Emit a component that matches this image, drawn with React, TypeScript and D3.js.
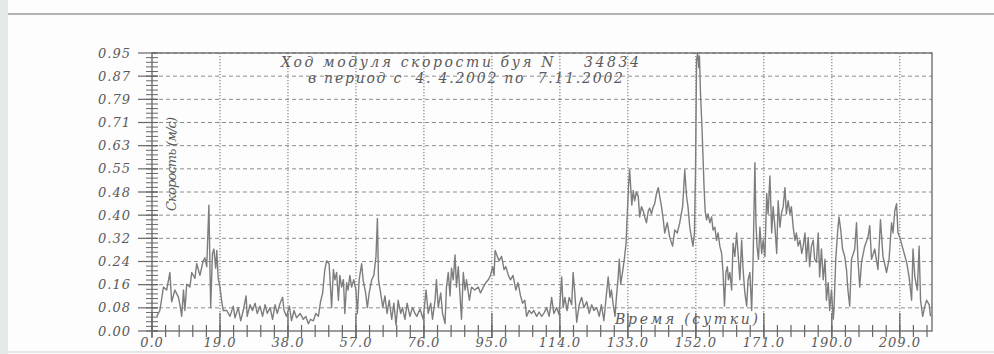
import React, { useEffect, useRef } from 'react';
import * as d3 from 'd3';

// Buoy 34834 speed record, [day, m/s]
const spring: [number, number][] = [
  [1.3, 0.05], [2.2, 0.07], [3.2, 0.15], [4.1, 0.14], [5.0, 0.2], [5.5, 0.1], [6.4, 0.14],
  [7.4, 0.115], [7.8, 0.09], [8.3, 0.05], [8.8, 0.14], [9.2, 0.07], [9.7, 0.16], [10.6, 0.15],
  [11.1, 0.2], [12.0, 0.18], [12.5, 0.23], [13.4, 0.19], [14.3, 0.24], [14.8, 0.25], [15.3, 0.22],
  [15.9, 0.43], [16.4, 0.08], [16.9, 0.265], [17.3, 0.28], [17.8, 0.215], [18.1, 0.275], [18.5, 0.18],
  [19.0, 0.15], [19.5, 0.1], [19.9, 0.07], [20.9, 0.07], [21.8, 0.05], [22.7, 0.085], [23.2, 0.045],
  [24.1, 0.08], [24.8, 0.035], [25.5, 0.07], [26.3, 0.12], [26.6, 0.05], [27.4, 0.09], [28.1, 0.07],
  [28.8, 0.095], [29.4, 0.06], [30.2, 0.085], [30.9, 0.05], [31.6, 0.09], [32.2, 0.06], [33.0, 0.08],
  [33.7, 0.04], [34.4, 0.09], [35.0, 0.06], [35.8, 0.095], [36.5, 0.115], [36.9, 0.07], [37.6, 0.05],
  [38.4, 0.085], [39.0, 0.035], [39.7, 0.07], [40.4, 0.045], [41.4, 0.06], [42.3, 0.04], [43.0, 0.05],
  [43.7, 0.025], [44.3, 0.04], [45.1, 0.035], [45.8, 0.06], [46.5, 0.05], [47.1, 0.1], [47.7, 0.13],
  [48.3, 0.21], [48.8, 0.24], [49.5, 0.23],
];

const summer: [number, number][] = [
  [50.2, 0.08], [50.7, 0.21], [51.1, 0.175], [51.6, 0.2], [52.1, 0.105], [52.5, 0.19], [53.0, 0.15],
  [53.5, 0.175], [53.9, 0.06], [54.4, 0.165], [54.8, 0.14], [55.3, 0.19], [55.8, 0.15], [56.4, 0.175],
  [57.0, 0.14], [57.4, 0.06], [57.9, 0.175], [58.6, 0.23], [59.0, 0.175], [59.7, 0.13], [60.2, 0.08],
  [60.7, 0.13], [61.4, 0.175], [62.0, 0.19], [62.6, 0.255], [63.0, 0.385], [63.3, 0.175], [63.9, 0.13],
  [64.5, 0.08], [65.1, 0.12], [65.7, 0.06], [66.3, 0.105], [67.0, 0.04], [67.6, 0.095], [68.2, 0.02],
  [68.8, 0.105], [69.5, 0.06], [70.0, 0.08], [70.7, 0.04], [71.3, 0.095], [72.1, 0.05], [72.8, 0.08],
  [73.5, 0.06], [74.0, 0.05], [74.9, 0.075], [75.8, 0.04], [76.6, 0.14], [77.2, 0.06], [77.9, 0.095],
  [78.4, 0.04], [79.1, 0.105], [79.5, 0.175], [80.0, 0.08], [80.7, 0.13], [81.2, 0.06], [81.9, 0.025],
  [82.3, 0.15], [82.8, 0.2], [83.3, 0.12], [83.7, 0.215], [84.2, 0.175], [84.7, 0.26], [85.1, 0.15],
  [85.6, 0.22], [86.1, 0.12], [86.5, 0.04], [87.0, 0.2], [87.5, 0.14], [87.9, 0.175], [88.7, 0.105],
  [89.3, 0.15], [90.2, 0.14], [91.2, 0.15], [91.8, 0.13], [92.6, 0.15], [93.3, 0.165], [94.0, 0.175],
  [94.6, 0.19], [95.2, 0.22], [95.6, 0.19], [95.9, 0.275], [96.5, 0.255], [97.0, 0.24], [97.7, 0.255],
  [98.4, 0.21], [98.9, 0.22], [99.6, 0.19], [100.2, 0.175], [100.9, 0.19], [101.7, 0.14], [102.3, 0.165],
  [103.0, 0.12], [103.6, 0.095], [104.2, 0.105], [104.7, 0.05], [105.4, 0.07], [106.1, 0.06],
  [106.7, 0.07], [107.5, 0.05], [108.2, 0.065], [108.9, 0.05], [109.5, 0.06],
];

const lateSummer: [number, number][] = [
  [110.3, 0.08], [111.0, 0.05], [111.7, 0.115], [112.3, 0.06], [113.1, 0.08], [113.8, 0.055],
  [114.5, 0.185], [114.9, 0.08], [115.4, 0.115], [116.0, 0.07], [116.6, 0.115], [117.3, 0.09],
  [117.7, 0.2], [118.2, 0.125], [118.7, 0.03], [119.4, 0.09], [120.1, 0.115], [120.7, 0.08],
  [121.5, 0.1], [122.2, 0.06], [122.9, 0.09], [123.5, 0.07], [124.3, 0.08], [125.0, 0.05],
  [125.6, 0.09], [126.3, 0.035], [126.8, 0.1], [127.5, 0.185], [128.0, 0.115], [128.4, 0.14],
  [128.9, 0.09], [129.4, 0.05], [129.8, 0.115], [130.3, 0.185], [130.6, 0.245], [131.0, 0.16],
  [131.5, 0.2], [132.0, 0.245], [132.5, 0.3], [132.8, 0.39], [133.2, 0.5], [133.5, 0.55], [133.8, 0.49],
  [134.1, 0.43], [134.5, 0.48], [134.9, 0.445], [135.4, 0.475], [135.9, 0.46], [136.3, 0.39],
  [136.8, 0.425], [137.3, 0.41], [137.7, 0.39], [138.2, 0.37], [138.7, 0.41], [139.1, 0.42],
  [139.6, 0.4], [140.1, 0.425], [140.5, 0.435], [141.0, 0.47], [141.5, 0.49], [141.9, 0.46],
  [142.4, 0.425], [142.9, 0.38], [143.3, 0.335], [144.0, 0.37], [144.7, 0.32], [145.5, 0.29],
  [146.1, 0.345], [146.8, 0.335], [147.5, 0.37], [148.3, 0.425], [148.9, 0.55], [149.4, 0.46],
  [149.8, 0.425], [150.3, 0.355], [150.9, 0.31], [151.2, 0.29], [151.6, 0.335], [151.9, 0.54],
];

const autumn: [number, number][] = [
  [152.2, 0.925], [152.5, 0.95], [152.8, 0.9], [153.0, 0.94], [153.3, 0.81], [153.7, 0.7],
  [154.0, 0.595], [154.3, 0.49], [154.6, 0.41], [155.0, 0.38], [155.4, 0.4], [155.9, 0.37],
  [156.4, 0.39], [156.8, 0.345], [157.3, 0.355], [157.8, 0.31], [158.2, 0.335], [158.7, 0.29],
  [159.2, 0.265], [159.6, 0.2], [160.0, 0.085], [160.4, 0.2], [160.8, 0.22], [161.1, 0.175],
  [161.5, 0.2], [162.0, 0.14], [162.4, 0.3], [162.9, 0.255], [163.4, 0.335], [163.8, 0.265],
  [164.3, 0.175], [164.8, 0.31], [165.2, 0.21], [165.7, 0.13], [166.2, 0.085], [166.6, 0.175],
  [167.1, 0.2], [167.6, 0.07], [168.0, 0.245], [168.5, 0.575], [168.8, 0.37], [169.1, 0.29],
  [169.5, 0.245], [169.9, 0.355], [170.4, 0.265], [170.8, 0.31], [171.3, 0.255], [171.8, 0.47],
  [172.2, 0.4], [172.7, 0.53], [173.2, 0.335], [173.6, 0.425], [174.1, 0.355], [174.6, 0.265],
  [175.0, 0.445], [175.5, 0.355], [175.9, 0.4], [176.4, 0.425], [176.9, 0.49], [177.3, 0.4],
  [177.8, 0.445], [178.3, 0.4], [178.7, 0.425], [179.2, 0.355], [179.7, 0.31], [180.1, 0.335],
  [180.6, 0.29], [181.1, 0.31], [181.6, 0.265], [182.0, 0.29], [182.5, 0.335], [182.9, 0.24],
  [183.4, 0.32], [183.8, 0.22], [184.3, 0.29], [184.8, 0.31], [185.2, 0.245], [185.7, 0.235],
  [186.2, 0.335], [186.6, 0.185], [187.1, 0.28], [187.6, 0.175], [188.1, 0.245], [188.5, 0.105],
  [189.0, 0.165], [189.4, 0.07], [189.9, 0.14], [190.4, 0.04], [190.6, 0.07], [191.1, 0.245],
  [191.6, 0.335], [192.0, 0.39], [192.5, 0.345], [193.0, 0.28], [193.6, 0.255], [194.1, 0.21],
  [194.5, 0.14], [195.0, 0.085], [195.5, 0.245], [196.4, 0.28], [196.9, 0.37], [197.3, 0.245],
  [197.8, 0.15], [198.3, 0.235], [199.2, 0.29], [200.1, 0.32], [200.6, 0.36], [201.1, 0.245],
  [202.0, 0.28], [202.9, 0.21], [203.6, 0.38], [204.3, 0.255], [205.3, 0.2], [206.0, 0.245],
  [206.7, 0.37], [207.1, 0.335], [207.6, 0.41], [208.1, 0.435], [208.5, 0.335], [209.0, 0.32],
  [209.9, 0.28], [210.9, 0.235], [211.6, 0.185], [212.3, 0.105], [212.7, 0.28], [213.2, 0.185],
  [213.9, 0.14], [214.4, 0.29], [214.8, 0.105], [215.4, 0.05], [216.0, 0.085], [216.5, 0.105],
  [217.2, 0.09], [217.6, 0.05],
];

const yTickLabels = ['0.00', '0.08', '0.16', '0.24', '0.32', '0.40', '0.48', '0.55', '0.63', '0.71', '0.79', '0.87', '0.95'];
const xTickDays = [0, 19, 38, 57, 76, 95, 114, 133, 152, 171, 190, 209];

const title1 = 'Ход модуля скорости буя N    34834';
const title2 = 'в период с  4. 4.2002 по  7.11.2002';
const yTitle = 'Скорость (м/с)';
const xTitle = 'Время (сутки)';

const W = 994;
const H = 354;
const FONT = '"DejaVu Serif", "Liberation Serif", serif';

export default function App() {
  const svgRef = useRef<SVGSVGElement>(null);

  useEffect(() => {
    const svg = d3.select(svgRef.current);
    svg.selectAll('*').remove();

    const left = 152, right = 932, top = 53, bottom = 331;
    const yMax = 0.95;
    const x = d3.scaleLinear().domain([0, 218]).range([left, right]);
    const y = d3.scaleLinear().domain([0, yMax]).range([bottom, top]);

    // scanned page look
    svg.append('rect').attr('width', W).attr('height', H).attr('fill', '#fdfdfd');
    svg.append('rect').attr('width', 8).attr('height', H).attr('fill', '#e3ebe6');
    svg.append('line')
      .attr('x1', 8).attr('x2', W).attr('y1', 14).attr('y2', 14)
      .style('stroke', '#9a9a9a').style('stroke-width', 1.6);
    svg.append('line')
      .attr('x1', 8).attr('x2', W).attr('y1', 352).attr('y2', 352)
      .style('stroke', '#dcdcdc').style('stroke-width', 1.5);

    const ink = '#666';
    const yStep = yMax / 12;
    const yTicks = d3.range(13).map(i => i * yStep);

    // grid
    svg.selectAll('.grid-y')
      .data(yTicks.slice(1))
      .enter()
      .append('line')
      .attr('x1', left).attr('x2', right)
      .attr('y1', d => y(d)).attr('y2', d => y(d))
      .style('stroke', '#8c8c8c').style('stroke-width', 1)
      .style('stroke-dasharray', '4 3');

    svg.selectAll('.grid-x')
      .data(xTickDays.slice(1))
      .enter()
      .append('line')
      .attr('x1', d => x(d)).attr('x2', d => x(d))
      .attr('y1', top).attr('y2', bottom)
      .style('stroke', '#7a7a7a').style('stroke-width', 1.1)
      .style('stroke-dasharray', '1.2 1.8');

    // frame
    svg.append('rect')
      .attr('x', left).attr('y', top)
      .attr('width', right - left).attr('height', bottom - top)
      .style('fill', 'none').style('stroke', ink).style('stroke-width', 1.3);

    // y ticks: major + 4 minor per interval
    const yMinor = d3.range(60).map(i => i * yStep / 5);
    svg.selectAll('.ytick-minor')
      .data(yMinor)
      .enter()
      .append('line')
      .attr('x1', left - 6).attr('x2', left + 6)
      .attr('y1', d => y(d)).attr('y2', d => y(d))
      .style('stroke', ink).style('stroke-width', 1);
    svg.selectAll('.ytick-major')
      .data(yTicks)
      .enter()
      .append('line')
      .attr('x1', left - 14).attr('x2', left + 6)
      .attr('y1', d => y(d)).attr('y2', d => y(d))
      .style('stroke', ink).style('stroke-width', 1.2);

    // x ticks
    const xMinor = d3.range(0, 218, 3.8);
    svg.selectAll('.xtick-minor')
      .data(xMinor)
      .enter()
      .append('line')
      .attr('x1', d => x(d)).attr('x2', d => x(d))
      .attr('y1', bottom - 6).attr('y2', bottom + 6)
      .style('stroke', ink).style('stroke-width', 1.2);
    svg.selectAll('.xtick-major')
      .data(xTickDays)
      .enter()
      .append('line')
      .attr('x1', d => x(d)).attr('x2', d => x(d))
      .attr('y1', bottom - 18).attr('y2', bottom + 7)
      .style('stroke', ink).style('stroke-width', 1.3);

    // speed line
    const data = [...spring, ...summer, ...lateSummer, ...autumn];
    const line = d3.line<[number, number]>()
      .x(d => x(d[0]))
      .y(d => y(Math.min(d[1], yMax)));
    svg.append('path')
      .datum(data)
      .attr('d', line)
      .style('fill', 'none')
      .style('stroke', '#7d7d7d')
      .style('stroke-width', 1.4)
      .style('stroke-linejoin', 'round');

    // tick labels
    const txt = '#5a5a5a';
    svg.selectAll('.ylabel')
      .data(yTicks)
      .enter()
      .append('text')
      .attr('x', 131)
      .attr('y', d => y(d) + 4.5)
      .attr('text-anchor', 'end')
      .style('font-family', FONT).style('font-style', 'italic')
      .style('font-size', '13px').style('letter-spacing', '1px')
      .style('fill', txt)
      .text((d, i) => yTickLabels[i]);

    svg.selectAll('.xlabel')
      .data(xTickDays)
      .enter()
      .append('text')
      .attr('x', d => x(d))
      .attr('y', 347)
      .attr('text-anchor', 'middle')
      .style('font-family', FONT).style('font-style', 'italic')
      .style('font-size', '13px').style('letter-spacing', '1px')
      .style('fill', txt)
      .text(d => d.toFixed(1));

    // titles
    const label = (s: string, tx: number, ty: number, len: number, size: number) =>
      svg.append('text')
        .attr('x', tx).attr('y', ty)
        .attr('textLength', len).attr('lengthAdjust', 'spacing')
        .style('font-family', FONT).style('font-style', 'italic')
        .style('font-size', `${size}px`).style('fill', txt)
        .style('white-space', 'pre')
        .text(s);

    label(title1, 281, 67, 358, 14);
    label(title2, 308, 83, 315, 14);
    label(xTitle, 615, 324, 143, 14);

    svg.append('text')
      .attr('transform', 'translate(176,211) rotate(-90)')
      .attr('textLength', 94).attr('lengthAdjust', 'spacing')
      .style('font-family', FONT).style('font-style', 'italic')
      .style('font-size', '13px').style('fill', txt)
      .text(yTitle);
  }, []);

  return (
    <svg
      ref={svgRef}
      width={W}
      height={H}
      style={{ position: 'absolute', left: 0, top: 0, display: 'block' }}
    />
  );
}
